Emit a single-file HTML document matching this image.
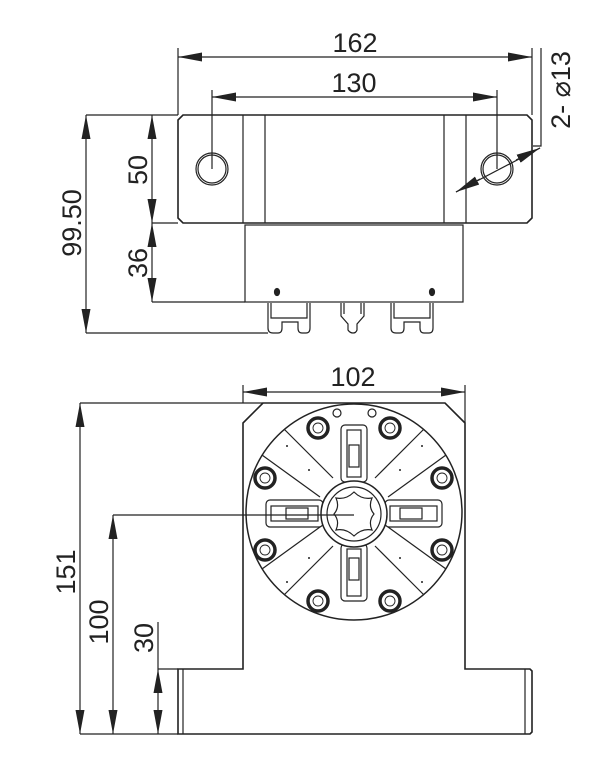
<!DOCTYPE html>
<html><head><meta charset="utf-8"><style>body{margin:0;background:#fff}svg{display:block}</style></head><body>
<svg width="600" height="780" viewBox="0 0 600 780" xmlns="http://www.w3.org/2000/svg" font-family="Liberation Sans, sans-serif" fill="none" stroke="#222">
<defs>
<marker id="a" viewBox="0 0 24 9" refX="24" refY="4.5" markerWidth="24" markerHeight="9" markerUnits="userSpaceOnUse" orient="auto-start-reverse"><path d="M0,0 L24,4.5 L0,9z" fill="#222" stroke="none"/></marker>
</defs>
<g stroke-width="1.2">
<!-- TOP VIEW -->
<path d="M183,115 H527 L532,120 V218 L527,223 H183 L178,218 V120 Z" stroke-width="1.6"/>
<line x1="243" y1="115" x2="243" y2="223"/><line x1="265" y1="115" x2="265" y2="223"/>
<line x1="444" y1="115" x2="444" y2="223"/><line x1="466" y1="115" x2="466" y2="223"/>
<circle cx="212" cy="169" r="16"/><circle cx="212" cy="169" r="14"/>
<circle cx="497" cy="169" r="16"/><circle cx="497" cy="169" r="14"/>
<rect x="245" y="225" width="218" height="77"/>
<ellipse cx="277" cy="292" rx="2.5" ry="3.5" fill="#222"/><ellipse cx="432" cy="292" rx="2.5" ry="3.5" fill="#222"/>
<path d="M268,303 V328 Q268,333 273,333 H278 Q282,333 282,328 V322 H298 V328 Q298,333 302,333 H306 Q310,333 310,328 V303"/>
<path d="M271,303 V318 H307 V303"/>
<path d="M391,303 V328 Q391,333 396,333 H400 Q404,333 404,328 V322 H420 V328 Q420,333 424,333 H429 Q433,333 433,328 V303"/>
<path d="M394,303 V318 H430 V303"/>
<path d="M341,303 V316 L348,324 V330 Q350,333 353,333 Q356,333 357,330 V324 L364,316 V303"/>
<path d="M344,303 V314 M361,303 V314"/>
<!-- top dims -->
<line x1="178" y1="115" x2="178" y2="48"/><line x1="532" y1="115" x2="532" y2="48"/>
<line x1="178" y1="57" x2="532" y2="57" marker-start="url(#a)" marker-end="url(#a)"/>
<line x1="212" y1="169" x2="212" y2="90"/><line x1="497" y1="169" x2="497" y2="90"/>
<line x1="212" y1="97" x2="497" y2="97" marker-start="url(#a)" marker-end="url(#a)"/>
<line x1="456" y1="192" x2="540" y2="148"/>
<line x1="480" y1="179" x2="456" y2="192" marker-end="url(#a)"/>
<line x1="516" y1="160" x2="540" y2="148" marker-end="url(#a)"/>
<path d="M533,146 L541,146 V48"/>
<line x1="86" y1="115" x2="178" y2="115"/><line x1="86" y1="333" x2="268" y2="333"/>
<line x1="152" y1="223" x2="178" y2="223"/><line x1="152" y1="302" x2="245" y2="302"/>
<line x1="86" y1="115" x2="86" y2="333" marker-start="url(#a)" marker-end="url(#a)"/>
<line x1="152" y1="115" x2="152" y2="223" marker-start="url(#a)" marker-end="url(#a)"/>
<line x1="152" y1="223" x2="152" y2="302" marker-start="url(#a)" marker-end="url(#a)"/>
<!-- FRONT VIEW -->
<path d="M263,403 H445 L465,423 V669 H530 L532,671 V732 L530,734 H178 V669 H243 V423 Z" stroke-width="1.6"/>
<line x1="183" y1="669" x2="183" y2="734"/><line x1="525" y1="669" x2="525" y2="734"/>
<circle cx="354" cy="512" r="108" stroke-width="1.5"/>
<line x1="333" y1="478" x2="284" y2="429"/><line x1="320" y1="497" x2="262" y2="455"/>
<line x1="375" y1="478" x2="424" y2="429"/><line x1="388" y1="497" x2="446" y2="455"/>
<line x1="333" y1="546" x2="284" y2="595"/><line x1="320" y1="527" x2="262" y2="569"/>
<line x1="375" y1="546" x2="424" y2="595"/><line x1="388" y1="527" x2="446" y2="569"/>
<rect x="341" y="425" width="26" height="57" rx="4"/><rect x="347" y="430" width="14" height="47"/><rect x="349" y="445" width="10" height="22"/>
<rect x="341" y="544" width="26" height="57" rx="4"/><rect x="347" y="549" width="14" height="47"/><rect x="349" y="558" width="10" height="22"/>
<rect x="266" y="500" width="57" height="27" rx="4"/><rect x="271" y="506" width="47" height="15"/><rect x="286" y="508" width="22" height="11"/>
<rect x="385" y="500" width="57" height="27" rx="4"/><rect x="390" y="506" width="47" height="15"/><rect x="400" y="508" width="22" height="11"/>
<circle cx="354" cy="514" r="33" fill="#fff" stroke-width="1.5"/><circle cx="354" cy="514" r="27"/>
<path d="M354,492 Q362,500 372,498 Q368,507 374,514 Q368,521 372,530 Q362,528 354,536 Q346,528 336,530 Q340,521 334,514 Q340,507 336,498 Q346,500 354,492Z"/>
<circle cx="337" cy="413" r="4"/><circle cx="372" cy="413" r="4"/>
<g fill="#fff">
<g stroke-width="3.5"><circle cx="318" cy="428" r="10"/><circle cx="390" cy="428" r="10"/><circle cx="265" cy="478" r="10"/><circle cx="442" cy="478" r="10"/><circle cx="265" cy="550" r="10"/><circle cx="442" cy="550" r="10"/><circle cx="318" cy="601" r="10"/><circle cx="390" cy="601" r="10"/></g>
<g stroke-width="0.9"><circle cx="318" cy="428" r="5"/><circle cx="390" cy="428" r="5"/><circle cx="265" cy="478" r="5"/><circle cx="442" cy="478" r="5"/><circle cx="265" cy="550" r="5"/><circle cx="442" cy="550" r="5"/><circle cx="318" cy="601" r="5"/><circle cx="390" cy="601" r="5"/></g>
</g>
<g fill="#222" stroke="none"><circle cx="287" cy="446" r="1"/><circle cx="309" cy="470" r="1"/><circle cx="422" cy="446" r="1"/><circle cx="400" cy="470" r="1"/><circle cx="287" cy="582" r="1"/><circle cx="309" cy="558" r="1"/><circle cx="422" cy="582" r="1"/><circle cx="400" cy="558" r="1"/></g>
<!-- front dims -->
<line x1="243" y1="403" x2="243" y2="385"/><line x1="465" y1="423" x2="465" y2="385"/>
<line x1="243" y1="392" x2="465" y2="392" marker-start="url(#a)" marker-end="url(#a)"/>
<line x1="80" y1="403" x2="263" y2="403"/><line x1="113" y1="515" x2="354" y2="515"/>
<line x1="80" y1="734" x2="178" y2="734"/><line x1="158" y1="669" x2="178" y2="669"/>
<line x1="80" y1="403" x2="80" y2="734" marker-start="url(#a)" marker-end="url(#a)"/>
<line x1="113" y1="515" x2="113" y2="734" marker-start="url(#a)" marker-end="url(#a)"/>
<line x1="158" y1="622" x2="158" y2="669"/>
<line x1="158" y1="669" x2="158" y2="700" marker-start="url(#a)"/>
<line x1="158" y1="700" x2="158" y2="734" marker-end="url(#a)"/>
</g>
<g fill="#222" stroke="none" font-size="27">
<text x="355" y="52" text-anchor="middle">162</text>
<text x="354" y="92" text-anchor="middle">130</text>
<text x="353" y="386" text-anchor="middle">102</text>
<text transform="translate(81,223) rotate(-90)" text-anchor="middle">99.50</text>
<text transform="translate(147,170) rotate(-90)" text-anchor="middle">50</text>
<text transform="translate(147,263) rotate(-90)" text-anchor="middle">36</text>
<text transform="translate(570,90) rotate(-90)" text-anchor="middle">2- ⌀13</text>
<text transform="translate(75,572) rotate(-90)" text-anchor="middle">151</text>
<text transform="translate(108,622) rotate(-90)" text-anchor="middle">100</text>
<text transform="translate(153,638) rotate(-90)" text-anchor="middle">30</text>
</g>
</svg>
</body></html>
